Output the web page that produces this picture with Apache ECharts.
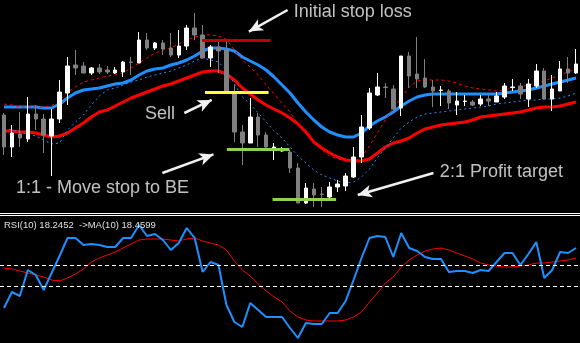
<!DOCTYPE html>
<html><head><meta charset="utf-8">
<script src="https://cdn.jsdelivr.net/npm/echarts@6/dist/echarts.min.js"></script>
<style>html,body{margin:0;padding:0;background:#000;}#c{width:580px;height:343px;}</style>
</head><body><div id="c"></div>
<script>
// Price data (arbitrary price units)
const opens  = [95,63,76,71,96,91,74,91,117,145, 144,137,142,140,137,138,148,147,170,162, 167,162,155,164,182,175,152,163,160,117, 78,67,93,75,62,59,58,42,7,21, 16,13,23,24,33,53,82,115,123,121, 102,154,136,132,123,119.5,119,105,108.5,108, 106,111,108,113,122.5,124,111,124,139,111, 119,141,137];
const closes = [63,77,72,96,91,75,91,118,144,142, 137,142,138,138,140,148,147.5,170,162,167, 161,155,164,182,175,152,163,159,118,78, 67,93,75,63,63,61,42,7,22,15, 15.5,23,26,34,53,83,117,123,122.5,101, 154,134,131,123,119,120,107,109,109,105, 111,109,114,124,123,116,126,139,111,121, 141,137,146];
const lows   = [55,53,63,68,80,57,34,87,105,135, 137,135,136,136,136,133,135,147,160,160, 155,153,152,160,170,152,143,137,118,68, 45,67,63,62,50,58,37,7,6,3, 3,12,18,19,32,47,80,114,112,100, 94,122,122,122,103,104,101,95,104,104, 104,104,108,111,119,111,103,122,111,99, 119,127,136];
const highs  = [97,85,98,113,105,96,101,130,153,160, 148,143,146,144,143,149,153,178,177,168, 170,177,180,185,197,185,165,168,168,125, 85,112,97,78,67,63,60,47,27,27, 23,28,30,37,63,95,122,137,127,125, 154,158,173,151,130,124,121,118,115,110, 115,115,118,127,131,127,131,146,142,135, 149,153,161];

const maBlue = [103,103,103,103,103,102,102,106,112,117, 120,121,122,124,126,127,130,135,139,141, 142,145,147,150,154,159,162,162,161,159, 153,149,145,140,133,125,117,107,98,90, 83,78,75,73,73,77,84,89,93,98, 104,109,113,115,116,116,116,116,116,116, 116,116,116,117,118,119,120,122,124,126, 128,130,132];
const maRed = [79,79,78,78,77,75,73,74,77,82, 87,93,98,100,104,108,112,115,118,121, 124,126,129,132,135,138,139,139,136,130, 122,116,110,105,101,97,92,86,78,68, 62,57,53,50,49,49,51,57,63,67, 69,72,77,81,83,85,86,87,88,90, 93,94,95,96,97,98,100,102,103,103, 104,106,108];
const maRedDash = [106,105,103,103,103,103,104,109,118,123, 128,130,132,134,135,137,142,147,152,157, 160,162,166,170,173,175,175,174,171,160, 150,143,135,125,116,107,98,86,77,68, 60,54,51,50,48,53,64,77,90,102, 112,123,129,130,130,130,129,127,124,122, 121,120,119,120,122,123,125,127,129,132, 135,138,141];
const maBlueDash = [82,80,78,76,74,70,66,67,80,88, 95,105,114,120,122,125,128,130,133,135, 137,139,142,145,149,152,150,148,140,126, 113,106,97,88,79,72,63,54,47,40, 35,32,29,27,28,33,41,52,62,72, 82,88,93,96,97,98,99,100,101,102, 103,104,106,107,108,109,110,110,111,111, 112,114,117];

// RSI panel (panel units)
const rsi = [35,51,47,73,68,53,70,87,105,105, 98,99,98,96,96,105,105,118,107,109, 103,93,100,115,105,71,81,78,38,21, 16,40,33,26,26,26,15,5,20,19, 19,30,30,42,63,85,105,107,106,86, 110,95,92,86,84,84,71,72,72,70, 73,72,81,90,90,78,89,101,65,73, 91,90,95];
const rsiMa = [75,74,72,70,68,66,63,62,65,69, 74,81,85,88,91,95,99,103,104,104, 104,103,102,104,105,102,100,98,93,82, 73,67,59,52,46,41,32,26,23,22, 22,22,22,23,26,31,41,50,60,66, 76,83,88,92,94,95,93,90,87,84, 80,78,77,76,76,77,78,80,80,81, 82,83,85];
const rsiLevels = [78, 57];
const rsiLabel = 'RSI(10) 18.2452  ->MA(10) 18.4599';

// Trade levels
const levelPrices = [170, 117.5, 60.5, 10.5];
const levelFrom = [24.94, 25.3, 28.06, 33.8];
const levelTo = [33.56, 33.3, 35.94, 41.8];
const levelColors = ['#c00000', '#ffff33', '#8fd14f', '#8fd14f'];

// Annotations
const annoTexts = ['Initial stop loss', 'Sell', '1:1 - Move stop to BE', '2:1 Profit target'];
const annoX = [36.4, 17.7, 1.44, 54.8];
const annoY = [197.6, 95.6, 21.6, 37.6];
// Arrows: start (bar, price) -> tip (bar, price)
const arrowFromX = [35.7, 22.7, 19.94, 54.06];
const arrowFromY = [200, 97, 37, 37];
const arrowToX = [30.06, 26.94, 27.19, 43.69];
const arrowToY = [175, 113, 58, 13];

const n = opens.length;
const cats = opens.map((_, i) => i);
const candles = opens.map((o, i) => [o, closes[i], lows[i], highs[i]]);

const HEAD = [9.5, 14];
function toPx(x, y) { return [8 * x + 0.5, 210 - y]; }
function toVal(px, py) { return [(px - 0.5) / 8, 210 - py]; }
const arrowLines = arrowFromX.map((fx, i) => {
  const S = toPx(fx, arrowFromY[i]);
  const T = toPx(arrowToX[i], arrowToY[i]);
  const dx = T[0] - S[0], dy = T[1] - S[1];
  const L = Math.hypot(dx, dy);
  const E = [T[0] - dx / L * HEAD[1] / 2, T[1] - dy / L * HEAD[1] / 2];
  return [{ coord: [fx, arrowFromY[i]] }, { coord: toVal(E[0], E[1]) }];
});
const segLines = levelPrices.map((p, i) => [
  { coord: [levelFrom[i], p], lineStyle: { color: levelColors[i], width: 3, type: 'solid', cap: 'butt' } },
  { coord: [levelTo[i], p] }
]);

const chart = echarts.init(document.getElementById('c'), null, { renderer: 'canvas' });
const lineBase = { type: 'line', symbol: 'none', xAxisIndex: 0, yAxisIndex: 0, silent: true, smooth: false };
chart.setOption({
  backgroundColor: '#000000',
  animation: false,
  title: {
    text: rsiLabel, left: 4, top: 220, padding: 0,
    textStyle: { color: '#e0e0e0', fontSize: 9.5, fontWeight: 'normal', fontFamily: 'Liberation Sans' }
  },
  graphic: [
    { type: 'line', shape: { x1: 0, y1: 213.5, x2: 580, y2: 213.5 }, style: { stroke: '#ffffff', lineWidth: 1 }, z: 100 },
    { type: 'line', shape: { x1: 0, y1: 215.5, x2: 580, y2: 215.5 }, style: { stroke: '#ffffff', lineWidth: 1 }, z: 100 }
  ],
  grid: [
    { left: -3.5, top: 0, width: 584, height: 210 },
    { left: -3.5, top: 216, width: 584, height: 127 }
  ],
  xAxis: [
    { type: 'category', gridIndex: 0, data: cats, show: false },
    { type: 'value', gridIndex: 0, min: -0.5, max: n - 0.5, show: false },
    { type: 'category', gridIndex: 1, data: cats, show: false }
  ],
  yAxis: [
    { type: 'value', gridIndex: 0, min: 0, max: 210, show: false },
    { type: 'value', gridIndex: 1, min: 0, max: 127, show: false }
  ],
  series: [
    Object.assign({}, lineBase, { name: 'redMA', data: maRed, z: 2, lineStyle: { color: '#ff0000', width: 3 } }),
    Object.assign({}, lineBase, { name: 'blueMA', data: maBlue, z: 2, lineStyle: { color: '#1e90ff', width: 3 } }),
    Object.assign({}, lineBase, { name: 'redDash', data: maRedDash, z: 3, lineStyle: { color: '#ff0000', width: 1, type: [3, 3] } }),
    Object.assign({}, lineBase, { name: 'blueDash', data: maBlueDash, z: 3, lineStyle: { color: '#1e90ff', width: 1, type: [2, 3] } }),
    {
      type: 'candlestick', name: 'price', xAxisIndex: 0, yAxisIndex: 0, data: candles, z: 4,
      barWidth: 4, silent: true,
      itemStyle: { color: '#ffffff', color0: '#808080', borderColor: '#ffffff', borderColor0: '#808080', borderWidth: 1 }
    },
    {
      type: 'line', name: 'levels', xAxisIndex: 1, yAxisIndex: 0, data: [], z: 6, silent: true,
      markLine: { silent: true, symbol: ['none', 'none'], label: { show: false }, data: segLines, animation: false }
    },
    {
      type: 'line', name: 'arrows', xAxisIndex: 1, yAxisIndex: 0, data: [], z: 7, silent: true,
      markLine: {
        silent: true, symbol: ['none', 'arrow'], symbolSize: HEAD, label: { show: false },
        lineStyle: { color: '#f0f0f0', width: 2.5, type: 'solid' },
        data: arrowLines, animation: false
      }
    },
    {
      type: 'scatter', name: 'notes', xAxisIndex: 1, yAxisIndex: 0, z: 8, silent: true,
      symbolSize: 1, itemStyle: { color: 'rgba(0,0,0,0)' },
      data: annoTexts.map((t, i) => ({ value: [annoX[i], annoY[i]], label: { formatter: t } })),
      label: { show: true, position: 'right', distance: 0, color: '#f0f0f0', fontSize: 18, fontFamily: 'Liberation Sans' }
    },
    {
      type: 'line', name: 'rsiMA', symbol: 'none', xAxisIndex: 2, yAxisIndex: 1, data: rsiMa, z: 3, silent: true,
      lineStyle: { color: '#ff0000', width: 1 }
    },
    {
      type: 'line', name: 'rsi', symbol: 'none', xAxisIndex: 2, yAxisIndex: 1, data: rsi, z: 4, silent: true,
      lineStyle: { color: '#1e90ff', width: 2 },
      markLine: {
        silent: true, symbol: ['none', 'none'], label: { show: false },
        lineStyle: { color: '#ffffff', width: 1, type: [4, 3] },
        data: rsiLevels.map(v => ({ yAxis: v })), animation: false
      }
    }
  ]
});
</script>
</body></html>
